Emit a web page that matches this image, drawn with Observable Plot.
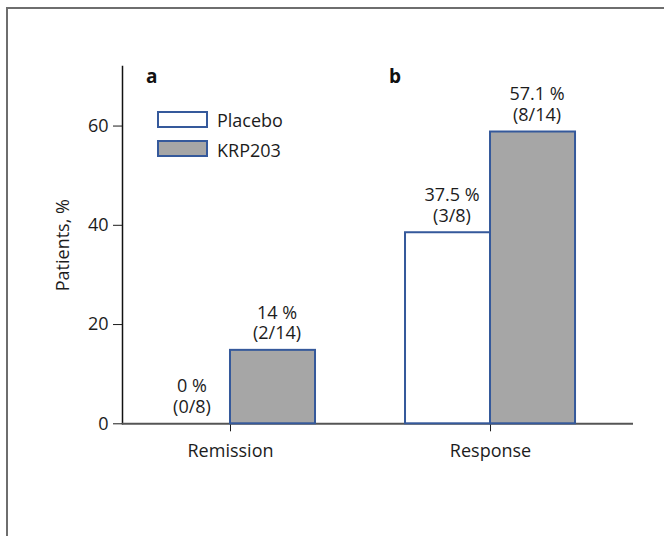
<!DOCTYPE html>
<html>
<head>
<meta charset="utf-8">
<script src="https://cdn.jsdelivr.net/npm/d3@7"></script>
<script src="https://cdn.jsdelivr.net/npm/@observablehq/plot@0.6"></script>
<style>
  html, body { margin: 0; padding: 0; background: #fff; }
  #wrap { position: relative; width: 664px; height: 536px; overflow: hidden; font-family: "Open Sans", sans-serif; }
  #border { position: absolute; left: 6px; top: 7px; width: 800px; height: 700px;
            border-top: 2px solid #6e6e6e; border-left: 2px solid #6e6e6e; }
  #chart { position: absolute; left: 0; top: 0; }
</style>
</head>
<body>
<div id="wrap">
  <div id="border"></div>
  <div id="chart"></div>
</div>
<script>
// ---- data ----
const categories = ["Remission", "Response"];
const seriesNames = ["Placebo", "KRP203"];
const placeboValues = [0, 38.5];
const krpValues = [14.8, 58.8];
const placeboLabels = ["0 %\n(0/8)", "37.5 %\n(3/8)"];
const krpLabels = ["14 %\n(2/14)", "57.1 %\n(8/14)"];
const yTicks = [0, 20, 40, 60];
const panelLetters = ["a", "b"];

const placebo = categories.map((c, i) => ({category: c, value: placeboValues[i], label: placeboLabels[i]}));
const krp = categories.map((c, i) => ({category: c, value: krpValues[i], label: krpLabels[i]}));

const barStroke = "#35599b";
const krpFill = "#a6a6a6";
const textColor = "#1c1c1c";
const FS = 18;

const W = 664, H = 536;
const chart = Plot.plot({
  width: W,
  height: H,
  marginLeft: 122,
  marginRight: 31,
  marginTop: 66,
  marginBottom: H - 423.3,
  style: {fontFamily: "'Open Sans', sans-serif", fontSize: FS + "px", color: textColor, background: "transparent", overflow: "visible"},
  x: {domain: categories, paddingInner: 0.34615, paddingOuter: 0.1557, align: 0.284, round: false, label: null},
  y: {domain: [0, 72], label: "Patients, %"},
  marks: [
    Plot.frame({anchor: "left", stroke: "#111", strokeWidth: 1.5}),
    Plot.axisY({ticks: yTicks, tickSize: 9, tickPadding: 5, fontSize: FS, label: "Patients, %", labelAnchor: "center", labelArrow: "none", labelOffset: 66}),
    Plot.axisX({tickSize: 8, tickPadding: 12, fontSize: FS, label: null}),
    Plot.ruleY([0], {stroke: "#555", strokeWidth: 2}),
    Plot.barY(placebo.filter(d => d.value > 0), {x: "category", y: "value", fill: "white", stroke: barStroke, strokeWidth: 2, insetRight: 85}),
    Plot.barY(krp.filter(d => d.value > 0), {x: "category", y: "value", fill: krpFill, stroke: barStroke, strokeWidth: 2, insetLeft: 85}),
    Plot.text(placebo, {x: "category", y: "value", text: "label", lineAnchor: "bottom", dy: -11, dx: -42.5 + 4, lineHeight: 1.15, fontSize: FS, fill: textColor}),
    Plot.text(krp, {x: "category", y: "value", text: "label", lineAnchor: "bottom", dy: -11, dx: 42.5 + 4, lineHeight: 1.15, fontSize: FS, fill: textColor})
  ]
});
document.getElementById("chart").appendChild(chart);

// legend and panel letters (chart chrome)
const svg = d3.select(chart.tagName.toLowerCase() === "svg" ? chart : chart.querySelector("svg"));
const g = svg.append("g").attr("font-family", "'Open Sans', sans-serif").attr("text-anchor", "start");
const legendFills = ["white", krpFill];
seriesNames.forEach((name, i) => {
  g.append("rect").attr("x", 158).attr("y", 112 + i * 29).attr("width", 49).attr("height", 15)
    .attr("fill", legendFills[i]).attr("stroke", barStroke).attr("stroke-width", 2);
  g.append("text").attr("x", 217).attr("y", 126.5 + i * 30).attr("font-size", FS).attr("fill", textColor).text(name);
});
const letterX = [146, 389];
panelLetters.forEach((l, i) => {
  g.append("text").attr("x", letterX[i]).attr("y", 83).attr("font-size", 19).attr("font-weight", "bold").attr("fill", "#111").text(l);
});
</script>
</body>
</html>
